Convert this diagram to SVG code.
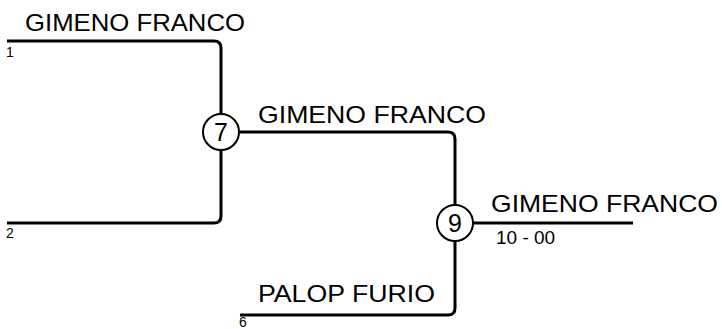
<svg xmlns="http://www.w3.org/2000/svg" width="722" height="329" viewBox="0 0 722 329">
<style>
.ln{fill:none;stroke:#000;stroke-width:3}
.nd{fill:#fff;stroke:#000;stroke-width:2}
.nm{font-family:"Liberation Sans",Arial,sans-serif;font-size:24px;fill:#000}
.sc{font-family:"Liberation Sans",Arial,sans-serif;font-size:19px;fill:#000}
.sm{font-family:"Liberation Sans",Arial,sans-serif;font-size:14px;fill:#000}
.cn{font-family:"Liberation Sans",Arial,sans-serif;font-size:25px;fill:#000;text-anchor:middle}
</style>
<rect width="722" height="329" fill="#fff"/>
<g id="connectors">
<path class="ln" d="M7,41 H214 Q221,41 221,48 V114"/>
<path class="ln" d="M7,223 H214 Q221,223 221,216 V150"/>
<path class="ln" d="M240,132 H448 Q455,132 455,139 V205"/>
<path class="ln" d="M473,223 H633"/>
<path class="ln" d="M240,315 H448 Q455,315 455,308 V241"/>
</g>
<g id="entry1"><text class="nm" x="25" y="31" textLength="220" lengthAdjust="spacingAndGlyphs">GIMENO FRANCO</text><text class="sm" x="6" y="57">1</text></g>
<g id="entry2"><text class="sm" x="6" y="238">2</text></g>
<g id="entry6"><text class="nm" x="258" y="302" textLength="177" lengthAdjust="spacingAndGlyphs">PALOP FURIO</text><text class="sm" x="239" y="327">6</text></g>
<g id="node7"><circle class="nd" cx="221" cy="132" r="18"/><text class="cn" x="221" y="141">7</text><text class="nm" x="258" y="123" textLength="228" lengthAdjust="spacingAndGlyphs">GIMENO FRANCO</text></g>
<g id="node9"><circle class="nd" cx="455" cy="223" r="18"/><text class="cn" x="455" y="232">9</text><text class="nm" x="491" y="212" textLength="227" lengthAdjust="spacingAndGlyphs">GIMENO FRANCO</text><text class="sc" x="496" y="244">10 - 00</text></g>
</svg>
